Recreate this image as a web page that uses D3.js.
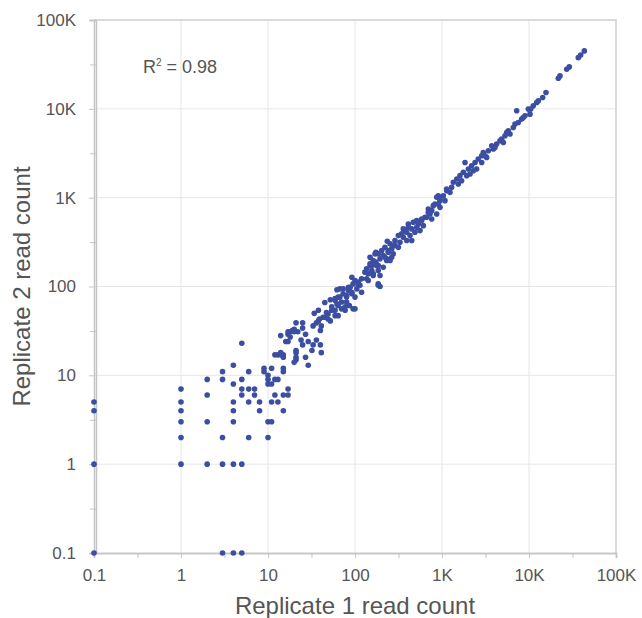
<!DOCTYPE html>
<html>
<head>
<meta charset="utf-8">
<script src="https://cdn.jsdelivr.net/npm/d3@7"></script>
<style>
  body { margin: 0; background: #fff; }
  text { font-family: "Liberation Sans", Arial, sans-serif; }
</style>
</head>
<body>
<svg id="svg"></svg>
<script>
// read counts, replicate 1 vs replicate 2 (zeros are drawn at 0.1)
const rep1 = [
  0, 0, 0, 0,
  1, 1, 1, 1, 1, 1,
  2, 2, 2, 2,
  3, 3, 3, 3, 3,
  4, 4, 4, 4, 4, 4, 4,
  5, 5, 5, 5, 5, 5,
  6, 6, 6, 6, 7, 7, 8, 8, 9, 9,
  10, 10, 10, 10, 10, 11, 11, 11, 11, 12, 12, 13, 13,
  15, 15, 15, 15, 17, 17, 12, 13, 14, 15,
  14, 17, 18, 20, 16, 21, 21, 21, 29, 20,
  149, 156, 174, 185, 130, 142, 162, 136, 185, 92, 100, 95, 109, 114, 119, 105, 88, 84, 92, 100,
  80, 67, 62, 73, 64, 59, 52, 45, 70, 62, 80, 86, 70, 59, 54, 64, 77, 95, 49, 45,
  49, 52, 47, 34, 39, 36, 41, 33, 40, 25, 21, 20, 19, 17, 25, 22, 27, 18, 24, 17,
  25, 29, 36, 33, 32, 40, 41, 21, 27, 14, 15,
  1133, 1035, 906, 948, 831, 948, 762, 696, 869, 667, 762, 584, 534, 610, 512, 410, 449, 559, 489, 376,
  429, 359, 393, 449, 329, 235, 288, 264, 315, 241, 275, 211, 194, 231, 174, 162, 149, 177, 136, 156,
  194, 194,
  869, 1082, 906, 794, 696, 728, 638, 584, 512, 468, 534, 410, 359, 393, 344, 315, 288, 253, 221, 203,
  185, 241, 275, 264, 231,
  170, 221, 253, 149, 185, 211, 162, 119, 142, 185, 109, 84, 73, 92, 80, 67, 59, 64, 77, 54,
  59, 43, 38, 100, 38,
  12794, 11200, 9817, 10260, 8990, 7220, 8240, 7530, 6600, 5780, 6050, 5300, 4640, 5070, 4250, 3730, 3890, 3410, 2980, 2860,
  3260, 2610, 2860, 2400, 1840, 2190, 2500, 2010, 1760, 2100, 1610, 1480, 1680, 1350, 1290, 1130,
  948, 1236, 1540, 1923, 2290, 3120, 4060, 4850, 5540, 6900, 8590,
  15680, 14360, 12260, 10470, 21730, 22710, 27120, 29040, 36860, 39270, 43230
];
const rep2 = [
  5, 4, 1, 0,
  7, 5, 4, 3, 2, 1,
  9, 6, 3, 1,
  11, 9, 2, 1, 0,
  13, 8, 5, 4, 3, 1, 0,
  23, 9, 7, 6, 1, 0,
  11, 7, 5, 2, 7, 6, 5, 4, 12, 11,
  10, 9, 8, 3, 2, 12, 8, 5, 3, 9, 6, 9, 5,
  12, 11, 6, 4, 7, 6, 17, 17, 18, 17,
  28, 29, 31, 31, 24, 18, 16, 15, 13, 14,
  213, 172, 188, 151, 145, 139, 133, 122, 107, 127, 117, 107, 112, 103, 86, 94, 98, 90, 83, 76,
  76, 94, 92, 83, 76, 73, 71, 66, 67, 64, 67, 61, 56, 54, 59, 47, 54, 56, 49, 45,
  43, 41, 51, 50, 43, 39, 36, 36, 32, 39, 39, 33, 32, 31, 34, 31, 29, 27, 25, 24,
  22, 24, 25, 22, 19, 22, 18, 19, 16, 17, 16,
  1199, 1052, 1052, 925, 849, 778, 714, 684, 656, 601, 576, 552, 528, 484, 464, 506, 445, 426, 408, 426,
  374, 358, 329, 329, 315, 323, 289, 265, 277, 243, 233, 223, 205, 205, 243, 196, 180, 172, 158, 151,
  133, 100,
  1009, 925, 849, 813, 746, 656, 601, 576, 552, 528, 506, 464, 445, 408, 391, 374, 329, 302, 277, 254,
  233, 254, 289, 213, 196,
  233, 213, 196, 172, 172, 165, 139, 122, 117, 103, 103, 98, 94, 86, 79, 76, 70, 61, 59, 54,
  47, 45, 41, 56, 54,
  12303, 10800, 9930, 8710, 8340, 9500, 7660, 7010, 6170, 5660, 5200, 4970, 4370, 4180, 4010, 3840, 3530, 3370, 3230, 2960,
  2840, 2720, 2490, 2490, 2490, 2290, 2100, 2100, 1930, 1850, 1770, 1620, 1550, 1490, 1310, 1250,
  966, 1148, 1426, 1770, 2010, 2960, 3670, 4560, 5420, 6730, 7980,
  15250, 13400, 11770, 9930, 22130, 23490, 27930, 29650, 37690, 40440, 44870
];

const majorTicks = [0.1, 1, 10, 100, 1000, 10000, 100000];
const tickLabels = ["0.1", "1", "10", "100", "1K", "10K", "100K"];
const minorTicks = [0.316, 3.16, 31.6, 316, 3162, 31623];
const rSquared = "0.98";
const floorValue = 0.1;

let width = 642, height = 618;
let margin = {top: 20, right: 26, bottom: 65, left: 94};

let svg = d3.select("#svg").attr("width", width).attr("height", height);

let x = d3.scaleLog().domain([0.1, 100000]).range([margin.left, width - margin.right]);
let y = d3.scaleLog().domain([0.1, 100000]).range([height - margin.bottom, margin.top]);

// grid
let grid = svg.append("g").attr("stroke", "#e6e6e6").attr("stroke-width", 1);
grid.selectAll("line.v")
    .data(majorTicks.slice(1))
    .join("line")
    .attr("class", "v")
    .attr("x1", d => x(d)).attr("x2", d => x(d))
    .attr("y1", y.range()[1]).attr("y2", y.range()[0]);
grid.selectAll("line.h")
    .data(majorTicks.slice(1))
    .join("line")
    .attr("class", "h")
    .attr("x1", x.range()[0]).attr("x2", x.range()[1])
    .attr("y1", d => y(d)).attr("y2", d => y(d));

// frame on top and right
svg.append("path")
    .attr("d", `M${x.range()[0]},${y.range()[1]}H${x.range()[1]}V${y.range()[0]}`)
    .attr("fill", "none")
    .attr("stroke", "#d2d2d2")
    .attr("stroke-width", 1.5);

function styleAxis(g) {
    g.attr("font-family", null);
    g.select(".domain").attr("stroke", "#c4c4c4").attr("stroke-width", 1.5);
    g.selectAll(".tick line").attr("stroke", "#c4c4c4");
    g.selectAll(".tick text").attr("fill", "#555").attr("font-size", 17);
}

let xAxis = d3.axisBottom(x).tickValues(majorTicks)
    .tickFormat((d, i) => tickLabels[i]).tickSize(5).tickPadding(11);
let yAxis = d3.axisLeft(y).tickValues(majorTicks)
    .tickFormat((d, i) => tickLabels[i]).tickSize(5).tickPadding(13);

svg.append("g")
    .attr("transform", `translate(0,${y.range()[0]})`)
    .call(xAxis).call(styleAxis);
svg.append("g")
    .attr("transform", `translate(0,${y.range()[0]})`)
    .call(d3.axisBottom(x).tickValues(minorTicks).tickFormat("").tickSize(5))
    .call(styleAxis);

svg.append("g")
    .attr("transform", `translate(${x.range()[0]},0)`)
    .call(yAxis).call(styleAxis);
svg.append("g")
    .attr("transform", `translate(${x.range()[0] + 2},0)`)
    .call(d3.axisLeft(y).tickValues(minorTicks).tickFormat("").tickSize(6))
    .call(styleAxis);

// points
svg.append("g").selectAll("circle")
    .data(d3.range(rep1.length))
    .join("circle")
    .attr("cx", i => x(Math.max(rep1[i], floorValue)))
    .attr("cy", i => y(Math.max(rep2[i], floorValue)))
    .attr("r", 2.8)
    .attr("fill", "#3b4ea2");

// R squared label
let rt = svg.append("text")
    .attr("x", 143).attr("y", 73)
    .attr("fill", "#555").attr("font-size", 18);
rt.append("tspan").text("R");
rt.append("tspan").attr("font-size", 10).attr("dy", -7).text("2");
rt.append("tspan").attr("dy", 7).text(" = " + rSquared);

// axis titles
svg.append("text")
    .attr("x", (x.range()[0] + x.range()[1]) / 2)
    .attr("y", 614)
    .attr("text-anchor", "middle")
    .attr("fill", "#555").attr("font-size", 24)
    .text("Replicate 1 read count");
svg.append("text")
    .attr("transform", `translate(30,${(y.range()[0] + y.range()[1]) / 2}) rotate(-90)`)
    .attr("text-anchor", "middle")
    .attr("fill", "#555").attr("font-size", 24)
    .text("Replicate 2 read count");
</script>
</body>
</html>
